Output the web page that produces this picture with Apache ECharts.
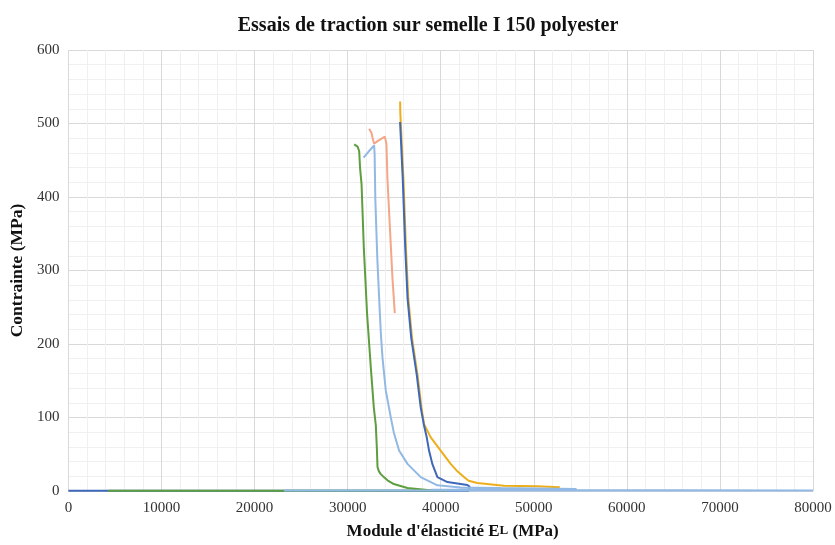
<!DOCTYPE html>
<html>
<head>
<meta charset="utf-8">
<script src="https://cdn.jsdelivr.net/npm/echarts@6/dist/echarts.min.js"></script>
<style>html,body{margin:0;padding:0;background:#fff}#c{width:835px;height:545px}</style>
</head>
<body>
<div id="c"></div>
<script>
const titleText = "Essais de traction sur semelle I 150 polyester";
const xTicks = [0, 10000, 20000, 30000, 40000, 50000, 60000, 70000, 80000];
const yTicks = [0, 100, 200, 300, 400, 500, 600];

const yellowData = [[35640,530],[35660,515],[35710,501],[36000,424],[36270,330],[36520,262],[36920,208],[37510,158],[37940,113],[38210,91],[38930,73],[40000,55],[41070,37],[41700,28],[42500,19],[43000,14],[43940,10.8],[46790,7.2],[50370,6.3],[52800,5]];
const darkBlueData = [[35636,502],[35925,424],[36193,330],[36440,262],[36837,208],[37427,158],[37856,113.5],[38210,89],[38500,73],[38746,55],[39110,36.5],[39646,19],[40719,12.2],[42864,8.1],[43100,6],[43000,0.5],[0,0.5]];
const salmonData = [[32310,493],[32570,487],[32670,481],[32850,472.5],[33210,476],[34000,482],[34170,472],[34280,424],[34820,289],[35070,242]];
const greenData = [[30703,471.6],[31068,468.5],[31239,462.6],[31346,437.8],[31496,417.6],[31743,329.7],[32086,241.9],[32494,167.6],[32815,113.5],[33030,89.2],[33137,59.5],[33212,32.4],[33352,27],[33566,23],[33888,18.9],[34285,14.5],[34960,9.5],[36430,4.1],[38575,1.4],[40750,0.7],[23170,0.5],[4260,0.5]];
const lightBlueData = [[31711,453.6],[32280,462.2],[32848,470.3],[32901,458.1],[32976,397.3],[33190,316.2],[33437,248.6],[33566,214.9],[33748,181.1],[34102,136.5],[34639,100],[34960,79.7],[35528,55],[36429,36.9],[37856,18.9],[39647,7.7],[42146,4.7],[46435,4],[54600,2.8],[54700,1.6],[39000,1.6],[39000,0.6],[80000,0.6],[23170,0.6]];

const serif = "Liberation Serif";
const chart = echarts.init(document.getElementById('c'), null, {renderer: 'canvas'});

function line(data, color) {
  return {type: 'line', data: data, showSymbol: false, symbol: 'none',
    lineStyle: {color: color, width: 2}, itemStyle: {color: color}, animation: false};
}

chart.setOption({
  animation: false,
  backgroundColor: '#ffffff',
  title: {
    text: titleText, left: 423, top: 11, textAlign: 'center',
    textStyle: {fontFamily: serif, fontSize: 20, fontWeight: 'bold', color: '#111'}
  },
  grid: {left: 67, right: 22, top: 50, bottom: 51},
  xAxis: {
    type: 'value', min: xTicks[0], max: xTicks[xTicks.length - 1], interval: 10000,
    name: "Module d'élasticité E{s|L} (MPa)", nameLocation: 'middle', nameGap: 32,
    nameTextStyle: {fontFamily: serif, fontSize: 17, fontWeight: 'bold', color: '#111',
      padding: [0, 0, 0, 24], rich: {s: {fontFamily: serif, fontSize: 13, fontWeight: 'bold', color: '#111', padding: [0, 0, 2, 0]}}},
    axisLine: {show: true, lineStyle: {color: '#d9d9d9'}},
    axisTick: {show: false},
    axisLabel: {fontFamily: serif, fontSize: 15, color: '#333', margin: 10,
      formatter: function (v) { return String(v); }},
    splitLine: {show: true, lineStyle: {color: '#d9d9d9', width: 1}},
    minorTick: {show: false, splitNumber: 5},
    minorSplitLine: {show: true, lineStyle: {color: '#f0f0f0', width: 1}}
  },
  yAxis: {
    type: 'value', min: yTicks[0], max: yTicks[yTicks.length - 1], interval: 100,
    name: 'Contrainte (MPa)', nameLocation: 'middle', nameGap: 40,
    nameTextStyle: {fontFamily: serif, fontSize: 17.5, fontWeight: 'bold', color: '#111'},
    axisLine: {show: false},
    axisTick: {show: false},
    axisLabel: {fontFamily: serif, fontSize: 15, color: '#333', margin: 9,
      formatter: function (v) { return String(v); }},
    splitLine: {show: true, lineStyle: {color: '#d9d9d9', width: 1}},
    minorTick: {show: false, splitNumber: 5},
    minorSplitLine: {show: true, lineStyle: {color: '#f0f0f0', width: 1}}
  },
  series: [
    line(yellowData, '#EDAE1C'),
    line(darkBlueData, '#3F68B8'),
    line(salmonData, '#F4A688'),
    line(greenData, '#5E9E3E'),
    line(lightBlueData, '#92B8E4')
  ]
});
</script>
</body>
</html>
